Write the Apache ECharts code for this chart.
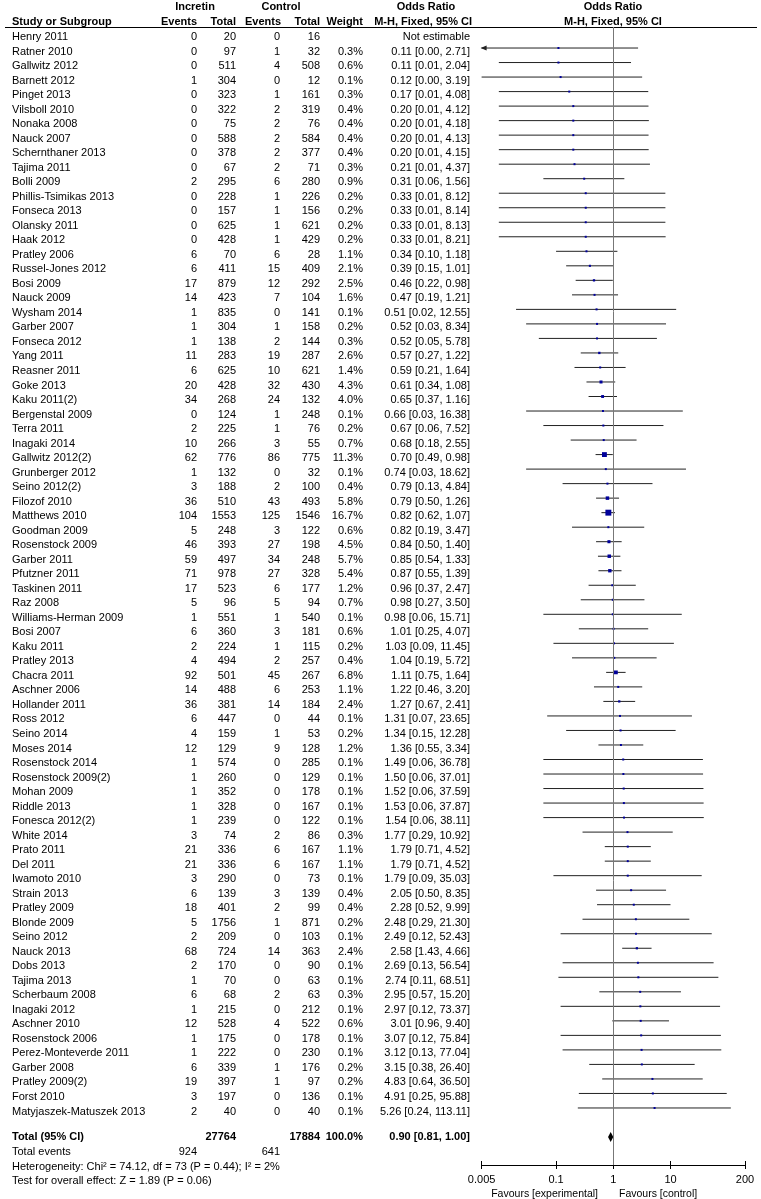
<!DOCTYPE html>
<html><head><meta charset="utf-8">
<script src="https://cdn.jsdelivr.net/npm/echarts@6/dist/echarts.min.js"></script>
<style>html,body{margin:0;padding:0;background:#fff}#c{width:761px;height:1199px}</style>
</head><body><div id="c"></div>
<script>
// ---------------- DATA ----------------
const studies = ['Henry 2011','Ratner 2010','Gallwitz 2012','Barnett 2012','Pinget 2013','Vilsboll 2010','Nonaka 2008','Nauck 2007','Schernthaner 2013','Tajima 2011','Bolli 2009','Phillis-Tsimikas 2013','Fonseca 2013','Olansky 2011','Haak 2012','Pratley 2006','Russel-Jones 2012','Bosi 2009','Nauck 2009','Wysham 2014','Garber 2007','Fonseca 2012','Yang 2011','Reasner 2011','Goke 2013','Kaku 2011(2)','Bergenstal 2009','Terra 2011','Inagaki 2014','Gallwitz 2012(2)','Grunberger 2012','Seino 2012(2)','Filozof 2010','Matthews 2010','Goodman 2009','Rosenstock 2009','Garber 2011','Pfutzner 2011','Taskinen 2011','Raz 2008','Williams-Herman 2009','Bosi 2007','Kaku 2011','Pratley 2013','Chacra 2011','Aschner 2006','Hollander 2011','Ross 2012','Seino 2014','Moses 2014','Rosenstock 2014','Rosenstock 2009(2)','Mohan 2009','Riddle 2013','Fonesca 2012(2)','White 2014','Prato 2011','Del 2011','Iwamoto 2010','Strain 2013','Pratley 2009','Blonde 2009','Seino 2012','Nauck 2013','Dobs 2013','Tajima 2013','Scherbaum 2008','Inagaki 2012','Aschner 2010','Rosenstock 2006','Perez-Monteverde 2011','Garber 2008','Pratley 2009(2)','Forst 2010','Matyjaszek-Matuszek 2013'];
const incEvents = [0,0,0,1,0,0,0,0,0,0,2,0,0,0,0,6,6,17,14,1,1,1,11,6,20,34,0,2,10,62,1,3,36,104,5,46,59,71,17,5,1,6,2,4,92,14,36,6,4,12,1,1,1,1,1,3,21,21,3,6,18,5,2,68,2,1,6,1,12,1,1,6,19,3,2];
const incTotal = [20,97,511,304,323,322,75,588,378,67,295,228,157,625,428,70,411,879,423,835,304,138,283,625,428,268,124,225,266,776,132,188,510,1553,248,393,497,978,523,96,551,360,224,494,501,488,381,447,159,129,574,260,352,328,239,74,336,336,290,139,401,1756,209,724,170,70,68,215,528,175,222,339,397,197,40];
const ctlEvents = [0,1,4,0,1,2,2,2,2,2,6,1,1,1,1,6,15,12,7,0,1,2,19,10,32,24,1,1,3,86,0,2,43,125,3,27,34,27,6,5,1,3,1,2,45,6,14,0,1,9,0,0,0,0,0,2,6,6,0,3,2,1,0,14,0,0,2,0,4,0,0,1,1,0,0];
const ctlTotal = [16,32,508,12,161,319,76,584,377,71,280,226,156,621,429,28,409,292,104,141,158,144,287,621,430,132,248,76,55,775,32,100,493,1546,122,198,248,328,177,94,540,181,115,257,267,253,184,44,53,128,285,129,178,167,122,86,167,167,73,139,99,871,103,363,90,63,63,212,522,178,230,176,97,136,40];
const weights = [null,0.3,0.6,0.1,0.3,0.4,0.4,0.4,0.4,0.3,0.9,0.2,0.2,0.2,0.2,1.1,2.1,2.5,1.6,0.1,0.2,0.3,2.6,1.4,4.3,4.0,0.1,0.2,0.7,11.3,0.1,0.4,5.8,16.7,0.6,4.5,5.7,5.4,1.2,0.7,0.1,0.6,0.2,0.4,6.8,1.1,2.4,0.1,0.2,1.2,0.1,0.1,0.1,0.1,0.1,0.3,1.1,1.1,0.1,0.4,0.4,0.2,0.1,2.4,0.1,0.1,0.3,0.1,0.6,0.1,0.1,0.2,0.2,0.1,0.1];
const orValues = [null,0.11,0.11,0.12,0.17,0.20,0.20,0.20,0.20,0.21,0.31,0.33,0.33,0.33,0.33,0.34,0.39,0.46,0.47,0.51,0.52,0.52,0.57,0.59,0.61,0.65,0.66,0.67,0.68,0.70,0.74,0.79,0.79,0.82,0.82,0.84,0.85,0.87,0.96,0.98,0.98,1.01,1.03,1.04,1.11,1.22,1.27,1.31,1.34,1.36,1.49,1.50,1.52,1.53,1.54,1.77,1.79,1.79,1.79,2.05,2.28,2.48,2.49,2.58,2.69,2.74,2.95,2.97,3.01,3.07,3.12,3.15,4.83,4.91,5.26];
const ciLower = [null,0.0043,0.01,0.0049,0.01,0.01,0.01,0.01,0.01,0.01,0.06,0.01,0.01,0.01,0.01,0.10,0.15,0.22,0.19,0.02,0.03,0.05,0.27,0.21,0.34,0.37,0.03,0.06,0.18,0.49,0.03,0.13,0.50,0.62,0.19,0.50,0.54,0.55,0.37,0.27,0.06,0.25,0.09,0.19,0.75,0.46,0.67,0.07,0.15,0.55,0.06,0.06,0.06,0.06,0.06,0.29,0.71,0.71,0.09,0.50,0.52,0.29,0.12,1.43,0.13,0.11,0.57,0.12,0.96,0.12,0.13,0.38,0.64,0.25,0.24];
const ciUpper = [null,2.71,2.04,3.19,4.08,4.12,4.18,4.13,4.15,4.37,1.56,8.12,8.14,8.13,8.21,1.18,1.01,0.98,1.21,12.55,8.34,5.78,1.22,1.64,1.08,1.16,16.38,7.52,2.55,0.98,18.62,4.84,1.26,1.07,3.47,1.40,1.33,1.39,2.47,3.50,15.71,4.07,11.45,5.72,1.64,3.20,2.41,23.65,12.28,3.34,36.78,37.01,37.59,37.87,38.11,10.92,4.52,4.52,35.03,8.35,9.99,21.30,52.43,4.66,56.54,68.51,15.20,73.37,9.40,75.84,77.04,26.40,36.50,95.88,113.11];
const totalParticipants = [27764, 17884];
const totalEvents = [924, 641];
const totalWeight = 100.0;
const pooledOR = [0.90, 0.81, 1.00];
const xTicks = [0.005, 0.1, 1, 10, 200];
const headerGroups = ['Incretin', 'Control', 'Odds Ratio', 'Odds Ratio'];
const headerCols = ['Study or Subgroup', 'Events', 'Total', 'Events', 'Total', 'Weight', 'M-H, Fixed, 95% CI', 'M-H, Fixed, 95% CI'];
const footnotes = ['Heterogeneity: Chi\u00b2 = 74.12, df = 73 (P = 0.44); I\u00b2 = 2%', 'Test for overall effect: Z = 1.89 (P = 0.06)'];
const favours = ['Favours [experimental]', 'Favours [control]'];

// ---------------- LAYOUT ----------------
const FF = '"Liberation Sans", Arial, sans-serif';
const F = '11px ' + FF, FB = 'bold 11px ' + FF;
const XMIN = 0.005, XMAX = 200;
const ARROW_TOL = 0.95; // CI must pass the scale end clearly to get an arrow
const ROW0 = 33.5, ROWH = 14.52, GTOP = 27, GBOT = 1165;
const YMIN = (GTOP - ROW0) / ROWH, YMAX = (GBOT - ROW0) / ROWH;
const TOTAL_ROW = (1137 - ROW0) / ROWH;
const TXT_OFF = 3.5;
const COLS = {name: 12, e1: 197, n1: 236, e2: 280, n2: 320, w: 363, ci: 470};
const LINE_C = '#222', SQ_C = '#00009a';
const n = studies.length;
const GRID = {left: 481.6, right: 761 - 745, top: GTOP, bottom: 1199 - GBOT};

function fmtCI(o, l, h) { return o.toFixed(2) + ' [' + l.toFixed(2) + ', ' + h.toFixed(2) + ']'; }
function txt(text, x, y, align, font) {
  return {type: 'text', silent: true, style: {text: String(text), x: x, y: y, font: font || F, fill: '#000',
    align: align, textAlign: align, verticalAlign: 'middle', textVerticalAlign: 'middle'}};
}

function renderItem(params, api) {
  const i = params.dataIndex;
  const yv = api.value(1);
  const y = api.coord([1, yv])[1];
  const ch = [];
  if (i < n) {
    const ty = y + TXT_OFF;
    ch.push(txt(studies[i], COLS.name, ty, 'left'));
    ch.push(txt(incEvents[i], COLS.e1, ty, 'right'));
    ch.push(txt(incTotal[i], COLS.n1, ty, 'right'));
    ch.push(txt(ctlEvents[i], COLS.e2, ty, 'right'));
    ch.push(txt(ctlTotal[i], COLS.n2, ty, 'right'));
    if (orValues[i] == null) {
      ch.push(txt('Not estimable', COLS.ci, ty, 'right'));
    } else {
      ch.push(txt(weights[i].toFixed(1) + '%', COLS.w, ty, 'right'));
      ch.push(txt(fmtCI(orValues[i], ciLower[i], ciUpper[i]), COLS.ci, ty, 'right'));
      const x0 = api.coord([Math.max(ciLower[i], XMIN), yv])[0];
      const x1 = api.coord([Math.min(ciUpper[i], XMAX), yv])[0];
      ch.push({type: 'line', silent: true, shape: {x1: x0, y1: y, x2: x1, y2: y}, style: {stroke: LINE_C, lineWidth: 1}});
      if (ciLower[i] < XMIN * ARROW_TOL) {
        ch.push({type: 'polygon', silent: true, shape: {points: [[x0 - 1, y], [x0 + 5, y - 2.5], [x0 + 5, y + 2.5]]}, style: {fill: LINE_C}});
      }
      const c = api.coord([orValues[i], yv]);
      const s = Math.max(2, Math.sqrt(weights[i]) * 1.45);
      ch.push({type: 'rect', silent: true, shape: {x: c[0] - s / 2, y: y - s / 2, width: s, height: s}, style: {fill: SQ_C}});
    }
  } else {
    ch.push(txt('Total (95% CI)', COLS.name, y, 'left', FB));
    ch.push(txt(totalParticipants[0], COLS.n1, y, 'right', FB));
    ch.push(txt(totalParticipants[1], COLS.n2, y, 'right', FB));
    ch.push(txt(totalWeight.toFixed(1) + '%', COLS.w, y, 'right', FB));
    ch.push(txt(fmtCI(pooledOR[0], pooledOR[1], pooledOR[2]), COLS.ci, y, 'right', FB));
    const xm = api.coord([pooledOR[0], yv])[0];
    const xl = api.coord([pooledOR[1], yv])[0];
    const xh = api.coord([pooledOR[2], yv])[0];
    ch.push({type: 'polygon', silent: true, shape: {points: [[xl, y], [xm, y - 5], [xh, y], [xm, y + 5]]}, style: {fill: '#000'}});
  }
  return {type: 'group', children: ch};
}

const rowData = studies.map((_, i) => [1, i]).concat([[1, TOTAL_ROW]]);

const graphics = [
  txt(headerGroups[0], 195, 7, 'center', FB),
  txt(headerGroups[1], 281, 7, 'center', FB),
  txt(headerGroups[2], 426, 7, 'center', FB),
  txt(headerGroups[3], 613, 7, 'center', FB),
  txt(headerCols[0], COLS.name, 21.5, 'left', FB),
  txt(headerCols[1], COLS.e1, 21.5, 'right', FB),
  txt(headerCols[2], COLS.n1, 21.5, 'right', FB),
  txt(headerCols[3], COLS.e2 + 1, 21.5, 'right', FB),
  txt(headerCols[4], COLS.n2, 21.5, 'right', FB),
  txt(headerCols[5], COLS.w, 21.5, 'right', FB),
  txt(headerCols[6], COLS.ci + 2, 21.5, 'right', FB),
  txt(headerCols[7], 613, 21.5, 'center', FB),
  {type: 'line', silent: true, shape: {x1: 5, y1: 27.5, x2: 757, y2: 27.5}, style: {stroke: '#000', lineWidth: 1}},
  txt('Total events', COLS.name, 1152, 'left'),
  txt(totalEvents[0], COLS.e1, 1152, 'right'),
  txt(totalEvents[1], COLS.e2, 1152, 'right'),
  txt(footnotes[0], COLS.name, 1166.5, 'left'),
  txt(footnotes[1], COLS.name, 1181, 'left'),
  txt(favours[0], 598, 1194.5, 'right', '10.5px ' + FF),
  txt(favours[1], 619, 1194.5, 'left', '10.5px ' + FF)
];

const chart = echarts.init(document.getElementById('c'), null, {renderer: 'canvas'});
chart.setOption({
  animation: false,
  backgroundColor: '#fff',
  grid: [Object.assign({}, GRID), Object.assign({}, GRID)],
  xAxis: [
    {type: 'log', logBase: 10, min: XMIN, max: XMAX, position: 'bottom', gridIndex: 0,
      axisLine: {show: true, onZero: false, lineStyle: {color: '#000', width: 1}},
      axisTick: {show: true, inside: false, length: 4, customValues: xTicks, lineStyle: {color: '#000'}},
      axisLabel: {show: true, customValues: xTicks, margin: 9, color: '#000', fontSize: 11, fontFamily: FF,
        formatter: v => String(+v.toPrecision(6))},
      splitLine: {show: false}},
    {type: 'log', logBase: 10, min: XMIN, max: XMAX, position: 'bottom', gridIndex: 1,
      axisLine: {show: false, onZero: false},
      axisTick: {show: true, inside: true, length: 4, customValues: xTicks, lineStyle: {color: '#000'}},
      axisLabel: {show: false}, splitLine: {show: false}}
  ],
  yAxis: [
    {type: 'value', inverse: true, min: YMIN, max: YMAX, show: false, gridIndex: 0, axisLine: {onZero: false}},
    {type: 'value', min: 0, max: 1, show: false, gridIndex: 1, axisLine: {onZero: false}}
  ],
  series: [
    {type: 'line', data: [], silent: true, xAxisIndex: 0, yAxisIndex: 0,
      markLine: {silent: true, symbol: 'none', label: {show: false},
        lineStyle: {color: '#777', type: 'solid', width: 1}, data: [{xAxis: 1}]}},
    {type: 'custom', xAxisIndex: 0, yAxisIndex: 0, renderItem: renderItem, data: rowData, encode: {x: 0, y: 1}, clip: false, silent: true}
  ],
  graphic: graphics
});
</script></body></html>
